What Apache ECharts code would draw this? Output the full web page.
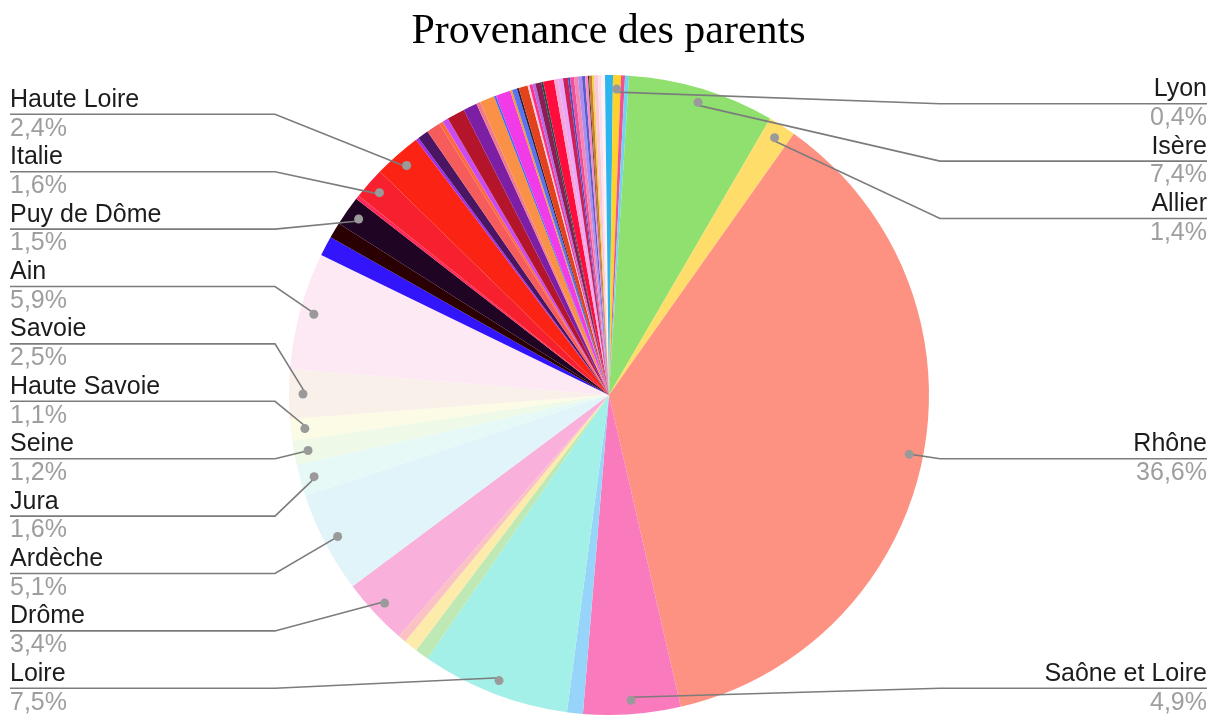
<!DOCTYPE html>
<html>
<head>
<meta charset="utf-8">
<title>Provenance des parents</title>
<script src="https://cdn.jsdelivr.net/npm/echarts@6/dist/echarts.min.js"></script>
<style>
  html, body { margin: 0; padding: 0; background: #fff; }
  #chart { width: 1217px; height: 717px; }
</style>
</head>
<body>
<div id="chart"></div>
<script>
// parts in %, clockwise from 12 o'clock; '' = slice without a label
const sliceNames = [
  '', 'Lyon', '', '', 'Isère', 'Allier', 'Rhône', 'Saône et Loire', '', 'Loire',
  '', '', '', 'Drôme', 'Ardèche', 'Jura', 'Seine', 'Haute Savoie', 'Savoie', 'Ain',
  '', '', 'Puy de Dôme', '', 'Italie', 'Haute Loire',
  '', '', '', '', '', '', '', '', '', '',
  '', '', '', '', '', '', '', '', '', '',
  '', '', '', '', '', '', '', '', '', '',
  '', '', '', '', '', '', ''
]
const sliceValues = [
  0.2, 0.4, 0.2, 0.2, 7.4, 1.4, 36.6, 4.9, 0.8, 7.5,
  0.7, 0.7, 0.4, 3.4, 5.1, 1.6, 1.2, 1.1, 2.5, 5.9,
  1.0, 0.8, 1.5, 0.2, 1.6, 2.4,
  0.15, 0.55, 0.7, 0.2, 0.3, 0.9, 0.7, 0.2, 0.75, 0.1,
  0.75, 0.1, 0.25, 0.1, 0.45, 0.1, 0.15, 0.15, 0.3, 0.1,
  0.55, 0.2, 0.25, 0.25, 0.1, 0.2, 0.2, 0.2, 0.15, 0.15,
  0.05, 0.15, 0.1, 0.2, 0.15, 0.2, 0.2
]
const sliceColors = [
  '#2cb5ee', '#fcd22b', '#f2508f', '#6fd5f2', '#8fe06f', '#fedd6a', '#fe9282', '#f97bbe', '#97d4f9', '#a2f0e8',
  '#bfe9b4', '#fcebab', '#fbc2c4', '#f9b1db', '#e1f4fa', '#e6f9f6', '#eef9e8', '#fcfbe6', '#faf0ea', '#fde9f4',
  '#3215fa', '#2b0002', '#200424', '#ff2a58', '#f6202f', '#fb2313',
  '#9b30e8', '#4a1562', '#f75c5c', '#ff6a3a', '#c84cf0', '#b5152b', '#7d1fa5', '#f07a8a', '#fb9147', '#3a6ff0',
  '#f13ae8', '#f0a030', '#5b72f2', '#2a2040', '#e2421c', '#f8d0e0', '#ff2f8a', '#b36be8', '#8c1d55', '#1e4a48',
  '#ff0d3d', '#f7a6d8', '#eaa6f8', '#cc2058', '#3b4fc8', '#f0509a', '#f585b5', '#a98ff0', '#5a5ccc', '#f48cc8',
  '#303030', '#d07a30', '#f0d040', '#f9c8d8', '#fbe0ea', '#fff0f4', '#2cb5ee'
]

const W = 1217
const H = 717
const boxTop = 75
const cx = 609
const cy = 395
const R = 320
const dotR = 303
const edgeGap = 10
const leftBend = 275
const rightBend = 940
const lineColor = '#7c7c7c'
const font = '"Liberation Sans", Arial, Helvetica, sans-serif'
const clear = 'rgba(0,0,0,0)'

function pct(v) {
  return v.toFixed(1).replace('.', ',') + '%'
}

// same geometry for the three layers: colours, labels with leader lines, dots
function pieLayer(extra) {
  return Object.assign({
    type: 'pie',
    left: 0,
    top: boxTop,
    width: W,
    height: H - boxTop,
    center: [cx, cy - boxTop],
    radius: [0, R],
    startAngle: 90,
    clockwise: true,
    silent: true
  }, extra)
}

const colorData = sliceNames.map((name, i) => ({
  name: name,
  value: sliceValues[i],
  itemStyle: { color: sliceColors[i] }
}))

const labelData = sliceNames.map((name, i) => ({
  name: name,
  value: sliceValues[i],
  label: { show: name !== '' },
  labelLine: { show: name !== '' }
}))

// labels stack without gaps: the left column from the bottom edge,
// the right column from the top (upper half) or the bottom (lower half)
function stackY(rect, onLeft) {
  const h = rect.height
  const mid = rect.y + h / 2
  if (!onLeft && mid < cy) {
    const rank = Math.round((rect.y - boxTop) / h)
    return boxTop + rank * h
  }
  const rank = Math.round((H - rect.y - h) / h)
  return H - (rank + 1) * h
}

const chart = echarts.init(document.getElementById('chart'))
chart.setOption({
  backgroundColor: '#ffffff',
  animation: false,
  title: {
    text: 'Provenance des parents',
    left: 'center',
    top: 6,
    textStyle: {
      fontFamily: '"Liberation Serif", "Times New Roman", serif',
      fontSize: 42,
      fontWeight: 'normal',
      color: '#000'
    }
  },
  series: [
    pieLayer({
      z: 2,
      itemStyle: { borderWidth: 0 },
      label: { show: false },
      labelLine: { show: false },
      data: colorData
    }),
    pieLayer({
      z: 3,
      avoidLabelOverlap: true,
      itemStyle: { color: clear, borderWidth: 0 },
      label: {
        alignTo: 'edge',
        edgeDistance: edgeGap,
        fontFamily: font,
        fontSize: 25,
        lineHeight: 28.7,
        formatter: p => '{n|' + p.name + '}\n{p|' + pct(p.value) + '}',
        rich: {
          n: { fontFamily: font, fontSize: 25, lineHeight: 28.7, color: '#1c1c1c' },
          p: { fontFamily: font, fontSize: 25, lineHeight: 28.7, color: '#9e9e9e' }
        }
      },
      labelLine: {
        length: 1,
        length2: 10,
        smooth: false,
        lineStyle: { color: lineColor, width: 1.6 }
      },
      labelLayout: function (p) {
        if (!p.labelLinePoints) return
        const rect = p.labelRect
        const onLeft = rect.x + rect.width / 2 < cx
        const y = stackY(rect, onLeft)
        const ly = y + rect.height / 2
        const edge = p.labelLinePoints[0]
        const k = dotR / R
        const dot = [cx + (edge[0] - cx) * k, cy + (edge[1] - cy) * k]
        return {
          y: y,
          verticalAlign: 'top',
          labelLinePoints: onLeft
            ? [dot, [leftBend, ly], [edgeGap, ly]]
            : [dot, [rightBend, ly], [W - edgeGap, ly]]
        }
      },
      data: labelData
    }),
    pieLayer({
      // grey dots at the inner end of each leader line
      z: 4,
      radius: [dotR - 7, dotR + 7],
      itemStyle: { color: clear, borderWidth: 0 },
      label: {
        position: 'inside',
        formatter: ' ',
        width: 9,
        height: 9,
        lineHeight: 9,
        padding: 0,
        borderRadius: 4.5,
        backgroundColor: '#9a9a9a'
      },
      labelLine: { show: false },
      data: labelData.map(d => ({ name: d.name, value: d.value, label: d.label }))
    })
  ]
})
</script>
</body>
</html>
